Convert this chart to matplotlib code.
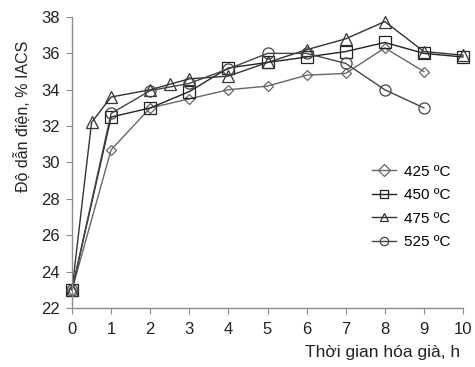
import numpy as np
import matplotlib.pyplot as plt

plt.rcParams['font.family'] = ['Liberation Sans', 'DejaVu Sans']

# thời gian hóa già (h) và độ dẫn điện (% IACS)
t_425 = [0, 1, 2, 3, 4, 5, 6, 7, 8, 9]
y_425 = [23.0, 30.7, 33.0, 33.5, 34.0, 34.2, 34.8, 34.9, 36.3, 35.0]

t_450 = [0, 1, 2, 3, 4, 5, 6, 7, 8, 9, 10]
y_450 = [23.0, 32.5, 33.0, 33.9, 35.2, 35.5, 35.8, 36.1, 36.6, 36.0, 35.8]

t_475 = [0, 0.5, 1, 2, 2.5, 3, 4, 5, 6, 7, 8, 9, 10]
y_475 = [23.0, 32.2, 33.6, 34.0, 34.3, 34.6, 34.75, 35.5, 36.2, 36.8, 37.75, 36.1, 35.9]

t_525 = [0, 1, 2, 3, 4, 5, 6, 7, 8, 9]
y_525 = [23.0, 32.7, 33.95, 34.35, 35.15, 36.0, 36.0, 35.45, 34.0, 33.0]

labels = ['425 ºC', '450 ºC', '475 ºC', '525 ºC']
x_ticks = list(range(0, 11))
y_ticks = list(range(22, 39, 2))

fig = plt.figure(figsize=(4.75, 3.67), dpi=100)
ax = fig.add_axes([72 / 475, 1 - 308 / 367, 391 / 475, 291 / 367])

grey = '#8c8c8c'
series = [
    (t_425, y_425, 'D', 5.5, '#666666'),
    (t_450, y_450, 's', 8, '#222222'),
    (t_475, y_475, '^', 9, '#333333'),
    (t_525, y_525, 'o', 8, '#444444'),
]
for (t, y, m, ms, c), lab in zip(series, labels):
    ax.plot(t, y, color=c, lw=1.0, marker=m, markersize=ms,
            markerfacecolor='none', markeredgecolor=c, markeredgewidth=0.9,
            label=lab, clip_on=False)

ax.set_xlim(0, 10)
ax.set_ylim(22, 38)
ax.set_xticks(x_ticks)
ax.set_yticks(y_ticks)
for s in ['top', 'right']:
    ax.spines[s].set_visible(False)
for s in ['left', 'bottom']:
    ax.spines[s].set_color(grey)
    ax.spines[s].set_linewidth(1.0)
ax.tick_params(direction='out', length=4, color=grey, labelsize=12,
               labelcolor='#222222')
ax.tick_params(axis='x', pad=6)
ax.tick_params(axis='y', pad=5)

ax.set_ylabel('Độ dẫn điện, % IACS', fontsize=11.5, color='#222222')
ax.yaxis.set_label_coords(-0.105, 0.66)
fig.text(460 / 475, 1 - 353 / 367, 'Thời gian hóa già, h', fontsize=12.5,
         color='#222222', ha='right', va='center')

leg = ax.legend(loc='center left', bbox_to_anchor=(292 / 391, 1 - (207 - 17) / 291),
                frameon=False, fontsize=11, handlelength=1.6, handletextpad=0.5,
                labelspacing=0.62, borderpad=0)
for h in leg.legend_handles:
    h.set_markersize(6)

fig.savefig('out.png', dpi=100)
